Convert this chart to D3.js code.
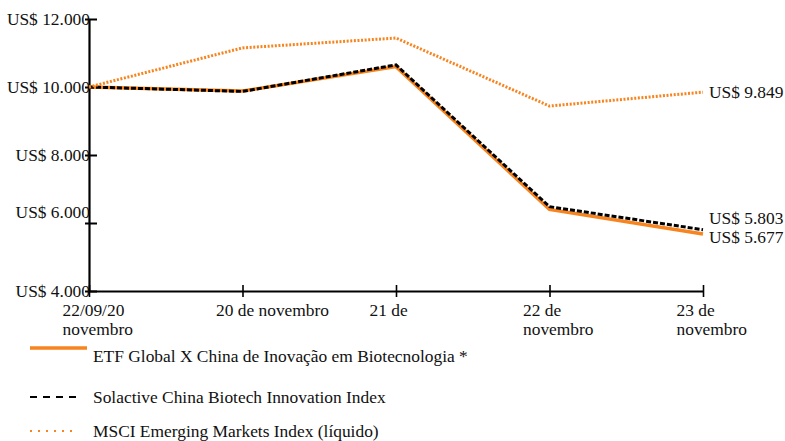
<!DOCTYPE html>
<html><head><meta charset="utf-8">
<script src="https://cdn.jsdelivr.net/npm/d3@7"></script>
<style>
html,body{margin:0;padding:0;background:#fff;}
text{font-family:"Liberation Serif","Times New Roman",serif;}
</style></head>
<body>
<svg id="chart" width="785" height="441"></svg>
<script>
const categories = ["c0","c1","c2","c3","c4"];
const xTickLabels = [["22/09/20","novembro"],["20 de novembro"],["21 de"],["22 de","novembro"],["23 de","novembro"]];
const yTicks = [4000, 6000, 8000, 10000, 12000];
const yTickLabels = ["US$ 4.000","US$ 6.000","US$ 8.000","US$ 10.000","US$ 12.000"];
const seriesNames = ["ETF Global X China de Inovação em Biotecnologia *","Solactive China Biotech Innovation Index","MSCI Emerging Markets Index (líquido)"];
const etfValues = [10000, 9880, 10600, 6400, 5677];
const solactiveValues = [10000, 9870, 10650, 6480, 5803];
const msciValues = [10000, 11150, 11440, 9440, 9849];
const endLabels = ["US$ 5.677","US$ 5.803","US$ 9.849"];

const ORANGE = "#F7841E";
const FS = 17.4;
const svg = d3.select("#chart");
const x = d3.scalePoint().domain(categories).range([89, 703]);
const y = d3.scaleLinear().domain([4000, 12000]).range([291, 19]);

const series = [
  {name: seriesNames[0], values: etfValues, color: ORANGE, width: 3.5, dash: null, legDash: null, legLen: 57, label: endLabels[0], ldy: 3},
  {name: seriesNames[1], values: solactiveValues, color: "#000", width: 3, dash: "5,2", legDash: "7,6", legLen: 48, label: endLabels[1], ldy: -11},
  {name: seriesNames[2], values: msciValues, color: ORANGE, width: 3, dash: "2,1.6", legDash: "2,6", legLen: 48, label: endLabels[2], ldy: 0}
];

// axes
const yAxis = d3.axisLeft(y).tickValues(yTicks).tickFormat((d,i)=>yTickLabels[i]).tickSize(0);
const gy = svg.append("g").attr("transform","translate(89,0)").call(yAxis);
gy.select(".domain").attr("stroke","#000").attr("stroke-width",2.2);
gy.selectAll(".tick line").attr("x1",-4).attr("x2",8).attr("stroke","#000").attr("stroke-width",2);
gy.selectAll(".tick text").attr("x",1).attr("font-size",FS).attr("fill","#111")
  .attr("font-family","'Liberation Serif','Times New Roman',serif")
  .attr("dy",d=>d===6000?"-0.3em":"0.32em");

const xAxis = d3.axisBottom(x).tickSize(0).tickFormat("");
const gx = svg.append("g").attr("transform","translate(0,291)").call(xAxis);
gx.select(".domain").attr("stroke","#000").attr("stroke-width",2.2);
gx.selectAll(".tick line").attr("y1",-6).attr("y2",6).attr("stroke","#000").attr("stroke-width",1.6);
gx.selectAll(".tick").each(function(d,i){
  const t = d3.select(this).append("text").attr("text-anchor","start")
    .attr("font-size",FS).attr("fill","#111").attr("font-family","'Liberation Serif','Times New Roman',serif");
  xTickLabels[i].forEach((s,j)=>t.append("tspan").attr("x",-27).attr("y",25+j*19).text(s));
});

// lines
const line = d3.line().x((d,i)=>x(categories[i])).y(d=>y(d));
series.forEach(s=>{
  svg.append("path").datum(s.values).attr("d",line).attr("fill","none")
    .attr("stroke",s.color).attr("stroke-width",s.width)
    .attr("stroke-dasharray",s.dash).attr("stroke-linejoin","miter");
  const last = s.values[s.values.length-1];
  svg.append("text").attr("x",x(categories[categories.length-1])+6).attr("y",y(last)+s.ldy)
    .attr("dy","0.32em").attr("font-size",FS).attr("fill","#111").text(s.label);
});

// legend
const legY = [348, 397, 431];
const legTextY = [356, 397, 431];
series.forEach((s,i)=>{
  svg.append("line").attr("x1",30).attr("x2",30+s.legLen).attr("y1",legY[i]).attr("y2",legY[i])
    .attr("stroke",s.color).attr("stroke-width",s.dash?2:3.5).attr("stroke-dasharray",s.legDash);
  svg.append("text").attr("x",93).attr("y",legTextY[i]).attr("dy","0.32em")
    .attr("font-size",FS).attr("fill","#111").text(s.name);
});
</script>
</body></html>
